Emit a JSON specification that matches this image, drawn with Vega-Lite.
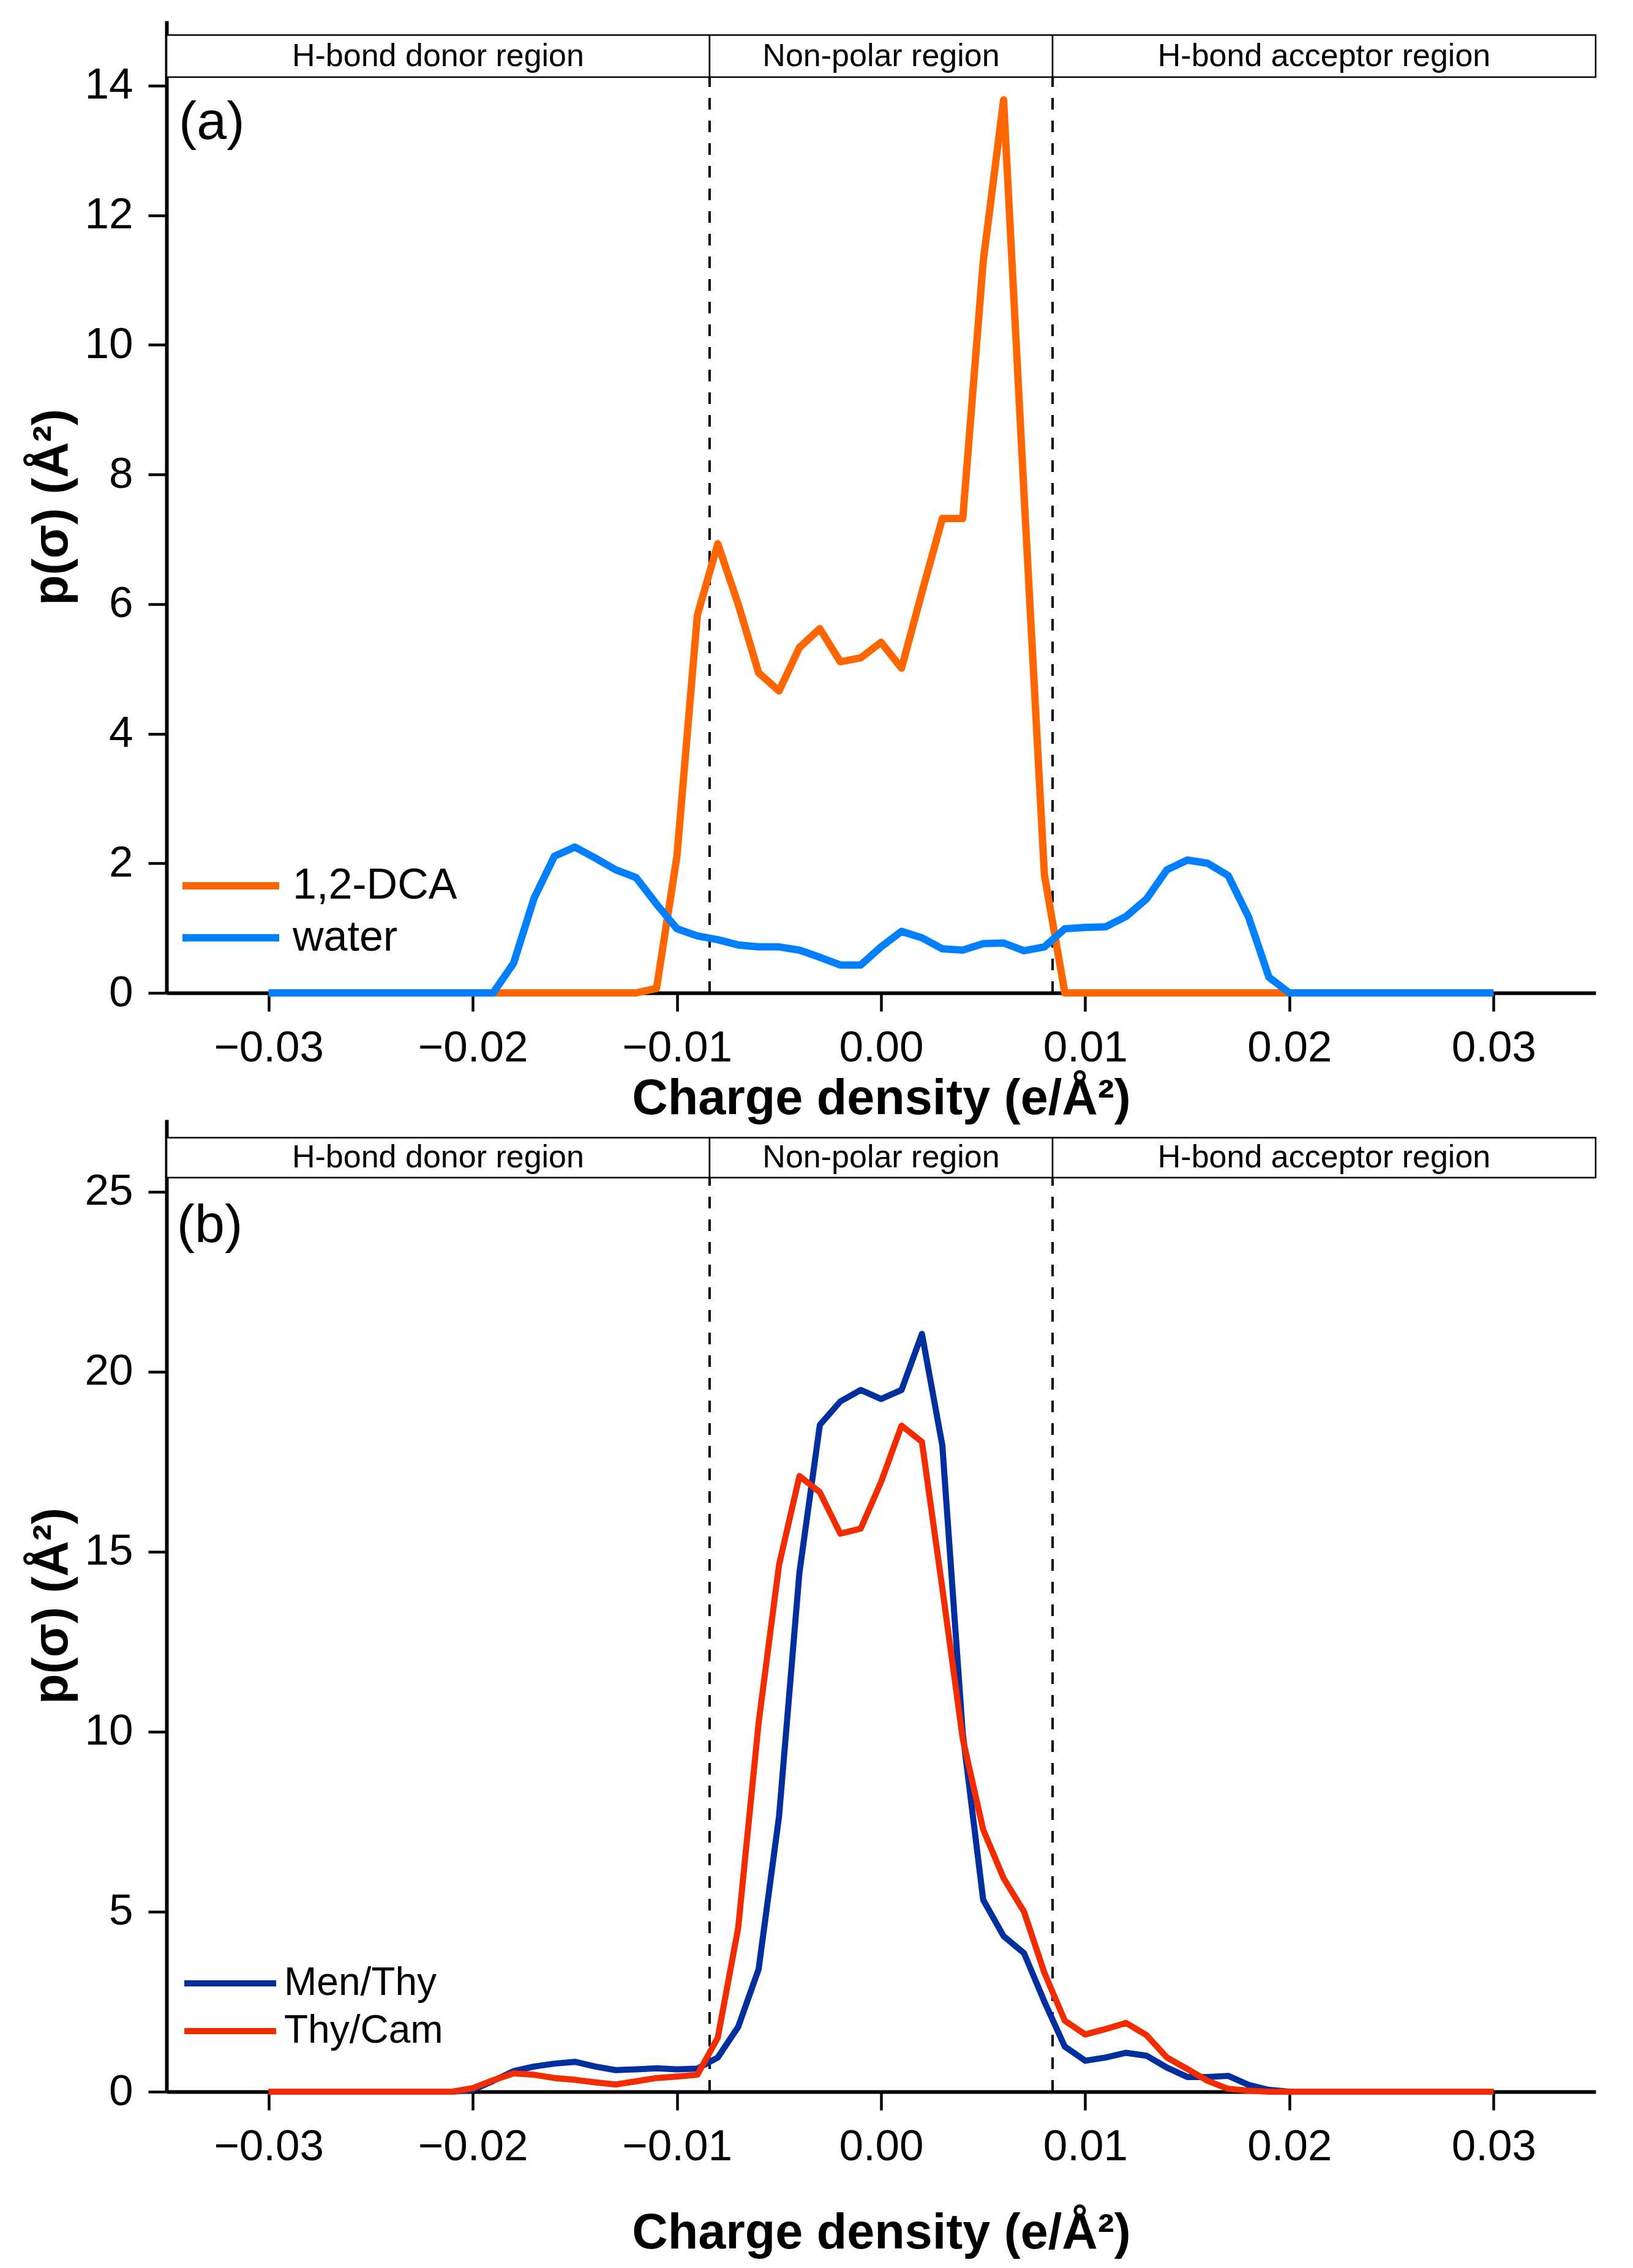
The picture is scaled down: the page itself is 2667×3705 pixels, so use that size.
{
  "$schema": "https://vega.github.io/schema/vega-lite/v6.json",
  "description": "Sigma profiles of 1,2-DCA/water and Men/Thy, Thy/Cam",
  "background": "white",
  "padding": {"left": 44, "top": 34, "right": 60, "bottom": 5},
  "bounds": "flush",
  "spacing": 207,
  "datasets": {
    "profA": [
      {"series": "1,2-DCA", "sigma": -0.030, "p": 0},
      {"series": "1,2-DCA", "sigma": -0.029, "p": 0},
      {"series": "1,2-DCA", "sigma": -0.028, "p": 0},
      {"series": "1,2-DCA", "sigma": -0.027, "p": 0},
      {"series": "1,2-DCA", "sigma": -0.026, "p": 0},
      {"series": "1,2-DCA", "sigma": -0.025, "p": 0},
      {"series": "1,2-DCA", "sigma": -0.024, "p": 0},
      {"series": "1,2-DCA", "sigma": -0.023, "p": 0},
      {"series": "1,2-DCA", "sigma": -0.022, "p": 0},
      {"series": "1,2-DCA", "sigma": -0.021, "p": 0},
      {"series": "1,2-DCA", "sigma": -0.020, "p": 0},
      {"series": "1,2-DCA", "sigma": -0.019, "p": 0},
      {"series": "1,2-DCA", "sigma": -0.018, "p": 0},
      {"series": "1,2-DCA", "sigma": -0.017, "p": 0},
      {"series": "1,2-DCA", "sigma": -0.016, "p": 0},
      {"series": "1,2-DCA", "sigma": -0.015, "p": 0},
      {"series": "1,2-DCA", "sigma": -0.014, "p": 0},
      {"series": "1,2-DCA", "sigma": -0.013, "p": 0},
      {"series": "1,2-DCA", "sigma": -0.012, "p": 0},
      {"series": "1,2-DCA", "sigma": -0.011, "p": 0.07},
      {"series": "1,2-DCA", "sigma": -0.010, "p": 2.11},
      {"series": "1,2-DCA", "sigma": -0.009, "p": 5.83},
      {"series": "1,2-DCA", "sigma": -0.008, "p": 6.93},
      {"series": "1,2-DCA", "sigma": -0.007, "p": 6.0},
      {"series": "1,2-DCA", "sigma": -0.006, "p": 4.94},
      {"series": "1,2-DCA", "sigma": -0.005, "p": 4.66},
      {"series": "1,2-DCA", "sigma": -0.004, "p": 5.33},
      {"series": "1,2-DCA", "sigma": -0.003, "p": 5.62},
      {"series": "1,2-DCA", "sigma": -0.002, "p": 5.11},
      {"series": "1,2-DCA", "sigma": -0.001, "p": 5.17},
      {"series": "1,2-DCA", "sigma": 0.000, "p": 5.41},
      {"series": "1,2-DCA", "sigma": 0.001, "p": 5.01},
      {"series": "1,2-DCA", "sigma": 0.002, "p": 6.18},
      {"series": "1,2-DCA", "sigma": 0.003, "p": 7.32},
      {"series": "1,2-DCA", "sigma": 0.004, "p": 7.32},
      {"series": "1,2-DCA", "sigma": 0.005, "p": 11.28},
      {"series": "1,2-DCA", "sigma": 0.006, "p": 13.78},
      {"series": "1,2-DCA", "sigma": 0.007, "p": 7.7},
      {"series": "1,2-DCA", "sigma": 0.008, "p": 1.82},
      {"series": "1,2-DCA", "sigma": 0.009, "p": 0},
      {"series": "1,2-DCA", "sigma": 0.010, "p": 0},
      {"series": "1,2-DCA", "sigma": 0.011, "p": 0},
      {"series": "1,2-DCA", "sigma": 0.012, "p": 0},
      {"series": "1,2-DCA", "sigma": 0.013, "p": 0},
      {"series": "1,2-DCA", "sigma": 0.014, "p": 0},
      {"series": "1,2-DCA", "sigma": 0.015, "p": 0},
      {"series": "1,2-DCA", "sigma": 0.016, "p": 0},
      {"series": "1,2-DCA", "sigma": 0.017, "p": 0},
      {"series": "1,2-DCA", "sigma": 0.018, "p": 0},
      {"series": "1,2-DCA", "sigma": 0.019, "p": 0},
      {"series": "1,2-DCA", "sigma": 0.020, "p": 0},
      {"series": "1,2-DCA", "sigma": 0.021, "p": 0},
      {"series": "1,2-DCA", "sigma": 0.022, "p": 0},
      {"series": "1,2-DCA", "sigma": 0.023, "p": 0},
      {"series": "1,2-DCA", "sigma": 0.024, "p": 0},
      {"series": "1,2-DCA", "sigma": 0.025, "p": 0},
      {"series": "1,2-DCA", "sigma": 0.026, "p": 0},
      {"series": "1,2-DCA", "sigma": 0.027, "p": 0},
      {"series": "1,2-DCA", "sigma": 0.028, "p": 0},
      {"series": "1,2-DCA", "sigma": 0.029, "p": 0},
      {"series": "1,2-DCA", "sigma": 0.030, "p": 0},
      {"series": "water", "sigma": -0.030, "p": 0},
      {"series": "water", "sigma": -0.029, "p": 0},
      {"series": "water", "sigma": -0.028, "p": 0},
      {"series": "water", "sigma": -0.027, "p": 0},
      {"series": "water", "sigma": -0.026, "p": 0},
      {"series": "water", "sigma": -0.025, "p": 0},
      {"series": "water", "sigma": -0.024, "p": 0},
      {"series": "water", "sigma": -0.023, "p": 0},
      {"series": "water", "sigma": -0.022, "p": 0},
      {"series": "water", "sigma": -0.021, "p": 0},
      {"series": "water", "sigma": -0.020, "p": 0},
      {"series": "water", "sigma": -0.019, "p": 0},
      {"series": "water", "sigma": -0.018, "p": 0.46},
      {"series": "water", "sigma": -0.017, "p": 1.46},
      {"series": "water", "sigma": -0.016, "p": 2.11},
      {"series": "water", "sigma": -0.015, "p": 2.25},
      {"series": "water", "sigma": -0.014, "p": 2.08},
      {"series": "water", "sigma": -0.013, "p": 1.9},
      {"series": "water", "sigma": -0.012, "p": 1.78},
      {"series": "water", "sigma": -0.011, "p": 1.37},
      {"series": "water", "sigma": -0.010, "p": 0.99},
      {"series": "water", "sigma": -0.009, "p": 0.88},
      {"series": "water", "sigma": -0.008, "p": 0.82},
      {"series": "water", "sigma": -0.007, "p": 0.74},
      {"series": "water", "sigma": -0.006, "p": 0.71},
      {"series": "water", "sigma": -0.005, "p": 0.71},
      {"series": "water", "sigma": -0.004, "p": 0.66},
      {"series": "water", "sigma": -0.003, "p": 0.55},
      {"series": "water", "sigma": -0.002, "p": 0.43},
      {"series": "water", "sigma": -0.001, "p": 0.43},
      {"series": "water", "sigma": 0.000, "p": 0.71},
      {"series": "water", "sigma": 0.001, "p": 0.95},
      {"series": "water", "sigma": 0.002, "p": 0.85},
      {"series": "water", "sigma": 0.003, "p": 0.68},
      {"series": "water", "sigma": 0.004, "p": 0.66},
      {"series": "water", "sigma": 0.005, "p": 0.76},
      {"series": "water", "sigma": 0.006, "p": 0.77},
      {"series": "water", "sigma": 0.007, "p": 0.65},
      {"series": "water", "sigma": 0.008, "p": 0.71},
      {"series": "water", "sigma": 0.009, "p": 0.99},
      {"series": "water", "sigma": 0.010, "p": 1.01},
      {"series": "water", "sigma": 0.011, "p": 1.02},
      {"series": "water", "sigma": 0.012, "p": 1.18},
      {"series": "water", "sigma": 0.013, "p": 1.45},
      {"series": "water", "sigma": 0.014, "p": 1.9},
      {"series": "water", "sigma": 0.015, "p": 2.05},
      {"series": "water", "sigma": 0.016, "p": 2.0},
      {"series": "water", "sigma": 0.017, "p": 1.81},
      {"series": "water", "sigma": 0.018, "p": 1.17},
      {"series": "water", "sigma": 0.019, "p": 0.24},
      {"series": "water", "sigma": 0.020, "p": 0},
      {"series": "water", "sigma": 0.021, "p": 0},
      {"series": "water", "sigma": 0.022, "p": 0},
      {"series": "water", "sigma": 0.023, "p": 0},
      {"series": "water", "sigma": 0.024, "p": 0},
      {"series": "water", "sigma": 0.025, "p": 0},
      {"series": "water", "sigma": 0.026, "p": 0},
      {"series": "water", "sigma": 0.027, "p": 0},
      {"series": "water", "sigma": 0.028, "p": 0},
      {"series": "water", "sigma": 0.029, "p": 0},
      {"series": "water", "sigma": 0.030, "p": 0}
    ],
    "profB": [
      {"series": "Men/Thy", "sigma": -0.030, "p": 0},
      {"series": "Men/Thy", "sigma": -0.029, "p": 0},
      {"series": "Men/Thy", "sigma": -0.028, "p": 0},
      {"series": "Men/Thy", "sigma": -0.027, "p": 0},
      {"series": "Men/Thy", "sigma": -0.026, "p": 0},
      {"series": "Men/Thy", "sigma": -0.025, "p": 0},
      {"series": "Men/Thy", "sigma": -0.024, "p": 0},
      {"series": "Men/Thy", "sigma": -0.023, "p": 0},
      {"series": "Men/Thy", "sigma": -0.022, "p": 0},
      {"series": "Men/Thy", "sigma": -0.021, "p": 0},
      {"series": "Men/Thy", "sigma": -0.020, "p": 0.05},
      {"series": "Men/Thy", "sigma": -0.019, "p": 0.3},
      {"series": "Men/Thy", "sigma": -0.018, "p": 0.57},
      {"series": "Men/Thy", "sigma": -0.017, "p": 0.7},
      {"series": "Men/Thy", "sigma": -0.016, "p": 0.78},
      {"series": "Men/Thy", "sigma": -0.015, "p": 0.83},
      {"series": "Men/Thy", "sigma": -0.014, "p": 0.7},
      {"series": "Men/Thy", "sigma": -0.013, "p": 0.6},
      {"series": "Men/Thy", "sigma": -0.012, "p": 0.62},
      {"series": "Men/Thy", "sigma": -0.011, "p": 0.65},
      {"series": "Men/Thy", "sigma": -0.010, "p": 0.62},
      {"series": "Men/Thy", "sigma": -0.009, "p": 0.64},
      {"series": "Men/Thy", "sigma": -0.008, "p": 0.95},
      {"series": "Men/Thy", "sigma": -0.007, "p": 1.8},
      {"series": "Men/Thy", "sigma": -0.006, "p": 3.4},
      {"series": "Men/Thy", "sigma": -0.005, "p": 7.64},
      {"series": "Men/Thy", "sigma": -0.004, "p": 14.42},
      {"series": "Men/Thy", "sigma": -0.003, "p": 18.52},
      {"series": "Men/Thy", "sigma": -0.002, "p": 19.17},
      {"series": "Men/Thy", "sigma": -0.001, "p": 19.49},
      {"series": "Men/Thy", "sigma": 0.000, "p": 19.24},
      {"series": "Men/Thy", "sigma": 0.001, "p": 19.49},
      {"series": "Men/Thy", "sigma": 0.002, "p": 21.05},
      {"series": "Men/Thy", "sigma": 0.003, "p": 17.95},
      {"series": "Men/Thy", "sigma": 0.004, "p": 9.95},
      {"series": "Men/Thy", "sigma": 0.005, "p": 5.33},
      {"series": "Men/Thy", "sigma": 0.006, "p": 4.32},
      {"series": "Men/Thy", "sigma": 0.007, "p": 3.85},
      {"series": "Men/Thy", "sigma": 0.008, "p": 2.5},
      {"series": "Men/Thy", "sigma": 0.009, "p": 1.25},
      {"series": "Men/Thy", "sigma": 0.010, "p": 0.86},
      {"series": "Men/Thy", "sigma": 0.011, "p": 0.95},
      {"series": "Men/Thy", "sigma": 0.012, "p": 1.08},
      {"series": "Men/Thy", "sigma": 0.013, "p": 1.0},
      {"series": "Men/Thy", "sigma": 0.014, "p": 0.67},
      {"series": "Men/Thy", "sigma": 0.015, "p": 0.41},
      {"series": "Men/Thy", "sigma": 0.016, "p": 0.41},
      {"series": "Men/Thy", "sigma": 0.017, "p": 0.44},
      {"series": "Men/Thy", "sigma": 0.018, "p": 0.19},
      {"series": "Men/Thy", "sigma": 0.019, "p": 0.05},
      {"series": "Men/Thy", "sigma": 0.020, "p": 0},
      {"series": "Men/Thy", "sigma": 0.021, "p": 0},
      {"series": "Men/Thy", "sigma": 0.022, "p": 0},
      {"series": "Men/Thy", "sigma": 0.023, "p": 0},
      {"series": "Men/Thy", "sigma": 0.024, "p": 0},
      {"series": "Men/Thy", "sigma": 0.025, "p": 0},
      {"series": "Men/Thy", "sigma": 0.026, "p": 0},
      {"series": "Men/Thy", "sigma": 0.027, "p": 0},
      {"series": "Men/Thy", "sigma": 0.028, "p": 0},
      {"series": "Men/Thy", "sigma": 0.029, "p": 0},
      {"series": "Men/Thy", "sigma": 0.030, "p": 0},
      {"series": "Thy/Cam", "sigma": -0.030, "p": 0},
      {"series": "Thy/Cam", "sigma": -0.029, "p": 0},
      {"series": "Thy/Cam", "sigma": -0.028, "p": 0},
      {"series": "Thy/Cam", "sigma": -0.027, "p": 0},
      {"series": "Thy/Cam", "sigma": -0.026, "p": 0},
      {"series": "Thy/Cam", "sigma": -0.025, "p": 0},
      {"series": "Thy/Cam", "sigma": -0.024, "p": 0},
      {"series": "Thy/Cam", "sigma": -0.023, "p": 0},
      {"series": "Thy/Cam", "sigma": -0.022, "p": 0},
      {"series": "Thy/Cam", "sigma": -0.021, "p": 0},
      {"series": "Thy/Cam", "sigma": -0.020, "p": 0.1},
      {"series": "Thy/Cam", "sigma": -0.019, "p": 0.32},
      {"series": "Thy/Cam", "sigma": -0.018, "p": 0.51},
      {"series": "Thy/Cam", "sigma": -0.017, "p": 0.47},
      {"series": "Thy/Cam", "sigma": -0.016, "p": 0.38},
      {"series": "Thy/Cam", "sigma": -0.015, "p": 0.33},
      {"series": "Thy/Cam", "sigma": -0.014, "p": 0.26},
      {"series": "Thy/Cam", "sigma": -0.013, "p": 0.2},
      {"series": "Thy/Cam", "sigma": -0.012, "p": 0.29},
      {"series": "Thy/Cam", "sigma": -0.011, "p": 0.38},
      {"series": "Thy/Cam", "sigma": -0.010, "p": 0.42},
      {"series": "Thy/Cam", "sigma": -0.009, "p": 0.47},
      {"series": "Thy/Cam", "sigma": -0.008, "p": 1.5},
      {"series": "Thy/Cam", "sigma": -0.007, "p": 4.55},
      {"series": "Thy/Cam", "sigma": -0.006, "p": 10.24},
      {"series": "Thy/Cam", "sigma": -0.005, "p": 14.63},
      {"series": "Thy/Cam", "sigma": -0.004, "p": 17.1},
      {"series": "Thy/Cam", "sigma": -0.003, "p": 16.65},
      {"series": "Thy/Cam", "sigma": -0.002, "p": 15.5},
      {"series": "Thy/Cam", "sigma": -0.001, "p": 15.64},
      {"series": "Thy/Cam", "sigma": 0.000, "p": 16.94},
      {"series": "Thy/Cam", "sigma": 0.001, "p": 18.5},
      {"series": "Thy/Cam", "sigma": 0.002, "p": 18.05},
      {"series": "Thy/Cam", "sigma": 0.003, "p": 13.98},
      {"series": "Thy/Cam", "sigma": 0.004, "p": 9.8},
      {"series": "Thy/Cam", "sigma": 0.005, "p": 7.28},
      {"series": "Thy/Cam", "sigma": 0.006, "p": 5.93},
      {"series": "Thy/Cam", "sigma": 0.007, "p": 5.0},
      {"series": "Thy/Cam", "sigma": 0.008, "p": 3.3},
      {"series": "Thy/Cam", "sigma": 0.009, "p": 1.97},
      {"series": "Thy/Cam", "sigma": 0.010, "p": 1.59},
      {"series": "Thy/Cam", "sigma": 0.011, "p": 1.74},
      {"series": "Thy/Cam", "sigma": 0.012, "p": 1.91},
      {"series": "Thy/Cam", "sigma": 0.013, "p": 1.57},
      {"series": "Thy/Cam", "sigma": 0.014, "p": 0.95},
      {"series": "Thy/Cam", "sigma": 0.015, "p": 0.63},
      {"series": "Thy/Cam", "sigma": 0.016, "p": 0.3},
      {"series": "Thy/Cam", "sigma": 0.017, "p": 0.08},
      {"series": "Thy/Cam", "sigma": 0.018, "p": 0.03},
      {"series": "Thy/Cam", "sigma": 0.019, "p": 0},
      {"series": "Thy/Cam", "sigma": 0.020, "p": 0},
      {"series": "Thy/Cam", "sigma": 0.021, "p": 0},
      {"series": "Thy/Cam", "sigma": 0.022, "p": 0},
      {"series": "Thy/Cam", "sigma": 0.023, "p": 0},
      {"series": "Thy/Cam", "sigma": 0.024, "p": 0},
      {"series": "Thy/Cam", "sigma": 0.025, "p": 0},
      {"series": "Thy/Cam", "sigma": 0.026, "p": 0},
      {"series": "Thy/Cam", "sigma": 0.027, "p": 0},
      {"series": "Thy/Cam", "sigma": 0.028, "p": 0},
      {"series": "Thy/Cam", "sigma": 0.029, "p": 0},
      {"series": "Thy/Cam", "sigma": 0.030, "p": 0}
    ],
    "regions": [
      {"label": "H-bond donor region", "x0": -0.035, "x1": -0.0084},
      {"label": "Non-polar region", "x0": -0.0084, "x1": 0.0084},
      {"label": "H-bond acceptor region", "x0": 0.0084, "x1": 0.035}
    ],
    "cuts": [
      {"b": -0.0084},
      {"b": 0.0084}
    ],
    "tagA": [{"tag": "(a)"}],
    "tagB": [{"tag": "(b)"}]
  },
  "vconcat": [
    {
      "width": 2334,
      "height": 1588,
      "layer": [
        {
          "data": {"name": "cuts"},
          "mark": {"type": "rule", "color": "black", "strokeWidth": 4, "strokeDash": [19, 18]},
          "encoding": {
            "x": {"field": "b", "type": "quantitative", "scale": {"domain": [-0.035, 0.035], "nice": false, "zero": false}},
            "y": {"datum": 0, "type": "quantitative", "scale": {"domain": [0, 15], "nice": false}},
            "y2": {"datum": 14.13}
          }
        },
        {
          "data": {"name": "profA"},
          "mark": {"type": "line", "strokeWidth": 12, "strokeJoin": "round"},
          "encoding": {
            "x": {
              "field": "sigma", "type": "quantitative",
              "scale": {"domain": [-0.035, 0.035], "nice": false, "zero": false},
              "title": "Charge density (e/Å²)",
              "axis": {"values": [-0.03, -0.02, -0.01, 0, 0.01, 0.02, 0.03], "format": ".2f", "labelPadding": 25, "titlePadding": 8}
            },
            "y": {
              "field": "p", "type": "quantitative",
              "scale": {"domain": [0, 15], "nice": false},
              "title": "p(σ) (Å²)",
              "axis": {"values": [0, 2, 4, 6, 8, 10, 12, 14], "format": "d", "labelPadding": 25, "titlePadding": 12}
            },
            "color": {
              "field": "series", "type": "nominal",
              "scale": {"domain": ["1,2-DCA", "water"], "range": ["#FF6600", "#0080FF"]},
              "legend": {
                "orient": "none", "legendX": 70, "legendY": 1378, "title": null, "padding": 0,
                "symbolType": "M-4,0H4", "symbolSize": 1560, "symbolStrokeWidth": 12,
                "labelFontSize": 70, "labelOffset": 66, "labelLimit": 0, "rowPadding": 15
              }
            }
          }
        },
        {
          "data": {"name": "regions"},
          "mark": {"type": "rect", "fill": "white", "stroke": "black", "strokeWidth": 2.5},
          "encoding": {
            "x": {"field": "x0", "type": "quantitative", "scale": {"domain": [-0.035, 0.035], "nice": false, "zero": false}},
            "x2": {"field": "x1"},
            "y": {"datum": 14.13, "type": "quantitative", "scale": {"domain": [0, 15], "nice": false}},
            "y2": {"datum": 14.78}
          }
        },
        {
          "data": {"name": "regions"},
          "transform": [{"calculate": "(datum.x0 + datum.x1) / 2", "as": "mid"}],
          "mark": {"type": "text", "fontSize": 52, "color": "black", "align": "center", "baseline": "middle"},
          "encoding": {
            "x": {"field": "mid", "type": "quantitative", "scale": {"domain": [-0.035, 0.035], "nice": false, "zero": false}},
            "y": {"datum": 14.45, "type": "quantitative", "scale": {"domain": [0, 15], "nice": false}},
            "text": {"field": "label"}
          }
        },
        {
          "data": {"name": "tagA"},
          "mark": {"type": "text", "fontSize": 88, "color": "black", "align": "left", "baseline": "middle"},
          "encoding": {
            "x": {"datum": -0.0344, "type": "quantitative", "scale": {"domain": [-0.035, 0.035], "nice": false, "zero": false}},
            "y": {"datum": 13.42, "type": "quantitative", "scale": {"domain": [0, 15], "nice": false}},
            "text": {"field": "tag"}
          }
        }
      ]
    },
    {
      "width": 2334,
      "height": 1588,
      "layer": [
        {
          "data": {"name": "cuts"},
          "mark": {"type": "rule", "color": "black", "strokeWidth": 4, "strokeDash": [19, 18]},
          "encoding": {
            "x": {"field": "b", "type": "quantitative", "scale": {"domain": [-0.035, 0.035], "nice": false, "zero": false}},
            "y": {"datum": 0, "type": "quantitative", "scale": {"domain": [0, 27], "nice": false}},
            "y2": {"datum": 25.39}
          }
        },
        {
          "data": {"name": "profB"},
          "mark": {"type": "line", "strokeWidth": 10, "strokeJoin": "round"},
          "encoding": {
            "x": {
              "field": "sigma", "type": "quantitative",
              "scale": {"domain": [-0.035, 0.035], "nice": false, "zero": false},
              "title": "Charge density (e/Å²)",
              "axis": {"values": [-0.03, -0.02, -0.01, 0, 0.01, 0.02, 0.03], "format": ".2f", "labelPadding": 25, "titlePadding": 66}
            },
            "y": {
              "field": "p", "type": "quantitative",
              "scale": {"domain": [0, 27], "nice": false},
              "title": "p(σ) (Å²)",
              "axis": {"values": [0, 5, 10, 15, 20, 25], "format": "d", "labelPadding": 25, "titlePadding": 12}
            },
            "color": {
              "field": "series", "type": "nominal",
              "scale": {"domain": ["Men/Thy", "Thy/Cam"], "range": ["#012F9E", "#F22C00"]},
              "legend": {
                "orient": "none", "legendX": 72, "legendY": 1379, "title": null, "padding": 0,
                "symbolType": "M-4,0H4", "symbolSize": 1406, "symbolStrokeWidth": 10,
                "labelFontSize": 64, "labelOffset": 56, "labelLimit": 0, "rowPadding": 14
              }
            }
          }
        },
        {
          "data": {"name": "regions"},
          "mark": {"type": "rect", "fill": "white", "stroke": "black", "strokeWidth": 2.5},
          "encoding": {
            "x": {"field": "x0", "type": "quantitative", "scale": {"domain": [-0.035, 0.035], "nice": false, "zero": false}},
            "x2": {"field": "x1"},
            "y": {"datum": 25.39, "type": "quantitative", "scale": {"domain": [0, 27], "nice": false}},
            "y2": {"datum": 26.5}
          }
        },
        {
          "data": {"name": "regions"},
          "transform": [{"calculate": "(datum.x0 + datum.x1) / 2", "as": "mid"}],
          "mark": {"type": "text", "fontSize": 52, "color": "black", "align": "center", "baseline": "middle"},
          "encoding": {
            "x": {"field": "mid", "type": "quantitative", "scale": {"domain": [-0.035, 0.035], "nice": false, "zero": false}},
            "y": {"datum": 25.95, "type": "quantitative", "scale": {"domain": [0, 27], "nice": false}},
            "text": {"field": "label"}
          }
        },
        {
          "data": {"name": "tagB"},
          "mark": {"type": "text", "fontSize": 88, "color": "black", "align": "left", "baseline": "middle"},
          "encoding": {
            "x": {"datum": -0.0345, "type": "quantitative", "scale": {"domain": [-0.035, 0.035], "nice": false, "zero": false}},
            "y": {"datum": 24.05, "type": "quantitative", "scale": {"domain": [0, 27], "nice": false}},
            "text": {"field": "tag"}
          }
        }
      ]
    }
  ],
  "resolve": {
    "scale": {"x": "independent", "y": "independent", "color": "independent"},
    "legend": {"color": "independent"}
  },
  "config": {
    "font": "Liberation Sans",
    "view": {"stroke": null},
    "axis": {
      "grid": false,
      "domainColor": "black",
      "domainWidth": 6,
      "tickColor": "black",
      "tickWidth": 4.5,
      "tickSize": 30,
      "labelFont": "Liberation Sans",
      "labelFontSize": 71,
      "labelColor": "black",
      "titleFont": "Liberation Sans",
      "titleFontSize": 81,
      "titleFontWeight": "bold",
      "titleColor": "black"
    },
    "legend": {
      "labelFont": "Liberation Sans",
      "labelColor": "black"
    }
  }
}
